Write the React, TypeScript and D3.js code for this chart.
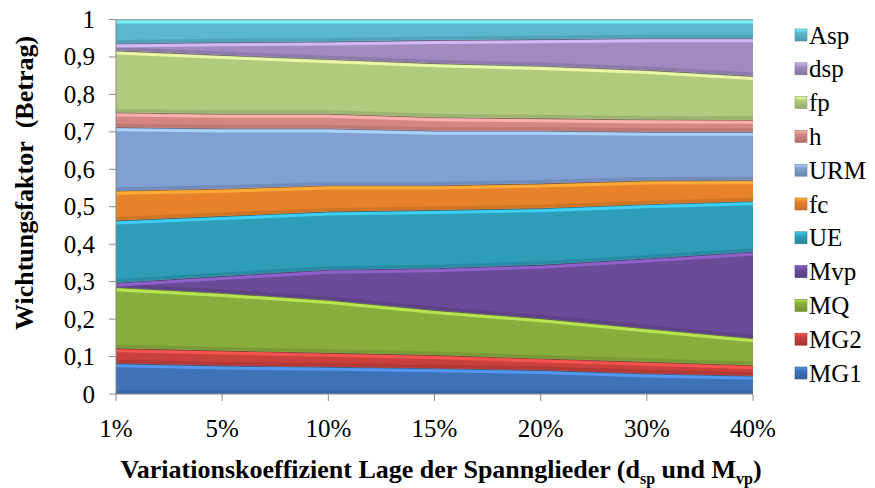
import React from "react";
import * as d3 from "d3";

const categories = ["1%", "5%", "10%", "15%", "20%", "30%", "40%"];
const seriesNames = ["MG1", "MG2", "MQ", "Mvp", "UE", "fc", "URM", "h", "fp", "dsp", "Asp"];

const MG1 = [0.082, 0.076, 0.073, 0.069, 0.064, 0.055, 0.049];
const MG2 = [0.04, 0.04, 0.037, 0.035, 0.031, 0.031, 0.028];
const MQ = [0.163, 0.154, 0.141, 0.12, 0.107, 0.089, 0.072];
const Mvp = [0.012, 0.045, 0.081, 0.112, 0.143, 0.187, 0.231];
const UE = [0.166, 0.16, 0.155, 0.155, 0.151, 0.145, 0.135];
const fc = [0.08, 0.073, 0.07, 0.066, 0.066, 0.063, 0.056];
const URM = [0.169, 0.161, 0.152, 0.146, 0.141, 0.13, 0.129];
const h = [0.04, 0.039, 0.039, 0.036, 0.033, 0.033, 0.032];
const fp = [0.165, 0.157, 0.146, 0.144, 0.14, 0.132, 0.117];
const dsp = [0.019, 0.034, 0.047, 0.062, 0.071, 0.085, 0.101];
const Asp = [0.064, 0.061, 0.059, 0.055, 0.053, 0.05, 0.05];

const yTicks = [0, 0.1, 0.2, 0.3, 0.4, 0.5, 0.6, 0.7, 0.8, 0.9, 1];

const colors: Record<string, string> = {
  MG1: "#3f72b6",
  MG2: "#c9403d",
  MQ: "#89ad3c",
  Mvp: "#6b4a98",
  UE: "#2e9db8",
  fc: "#e8822a",
  URM: "#809fd2",
  h: "#d58683",
  fp: "#b0ca7e",
  dsp: "#a08abf",
  Asp: "#5bb6cf",
};

const FONT = "'Liberation Serif', 'Times New Roman', serif";

export default function App() {
  const width = 875;
  const height = 488;
  const left = 116;
  const right = 753;
  const top = 19.5;
  const bottom = 394;

  const valuesBy: Record<string, number[]> = { MG1, MG2, MQ, Mvp, UE, fc, URM, h, fp, dsp, Asp };
  const rows = categories.map((c, i) => {
    const r: any = { cat: c };
    seriesNames.forEach((s) => (r[s] = valuesBy[s][i]));
    return r;
  });
  const stacked = d3.stack<any>().keys(seriesNames)(rows);

  const x = d3.scalePoint<string>().domain(categories).range([left, right]);
  const y = d3.scaleLinear().domain([0, 1]).range([bottom, top]);

  const area = d3
    .area<any>()
    .x((d) => x(d.data.cat)!)
    .y0((d) => y(d[0]))
    .y1((d) => y(d[1]));
  const topLine = d3
    .line<any>()
    .x((d) => x(d.data.cat)!)
    .y((d) => y(d[1]));
  const hiLine = d3
    .line<any>()
    .x((d) => x(d.data.cat)!)
    .y((d) => y(d[1]) + 2.5);
  const loLine = d3
    .line<any>()
    .x((d) => x(d.data.cat)!)
    .y((d) => y(d[0]) - 2);

  const legendItems = [...seriesNames].reverse();

  return (
    <svg
      width={width}
      height={height}
      style={{ position: "absolute", left: 0, top: 0, background: "#fff" }}
      fontFamily={FONT}
    >
      <defs>
        <clipPath id="plotClip">
          <rect x={left} y={top} width={right - left} height={bottom - top} />
        </clipPath>
        {seriesNames.map((s) => (
          <linearGradient key={s} id={`lg-${s}`} x1="0" y1="0" x2="0" y2="1">
            <stop offset="0%" stopColor={d3.color(colors[s])!.brighter(0.8).formatHex()} />
            <stop offset="35%" stopColor={colors[s]} />
            <stop offset="100%" stopColor={d3.color(colors[s])!.darker(0.5).formatHex()} />
          </linearGradient>
        ))}
      </defs>

      <g clipPath="url(#plotClip)">
        {stacked.map((layer) => (
          <g key={layer.key}>
            <path d={area(layer)!} fill={colors[layer.key]} />
            <path
              d={loLine(layer)!}
              fill="none"
              stroke={d3.color(colors[layer.key])!.darker(0.5).formatHex()}
              strokeWidth={3}
              opacity={0.7}
            />
            <path
              d={hiLine(layer)!}
              fill="none"
              stroke={d3.color(colors[layer.key])!.brighter(0.9).formatHex()}
              strokeWidth={3}
              opacity={0.85}
            />
            <path d={topLine(layer)!} fill="none" stroke="#3a3a3a" strokeOpacity={0.7} strokeWidth={1.2} />
          </g>
        ))}
      </g>

      {/* y axis */}
      <line x1={left} x2={left} y1={top} y2={bottom} stroke="#888" strokeWidth={1} />
      {yTicks.map((t) => (
        <g key={t}>
          <line x1={left - 7} x2={left} y1={y(t)} y2={y(t)} stroke="#888" />
          <text
            x={95}
            y={y(t)}
            textAnchor="end"
            dominantBaseline="central"
            fontSize={25}
            fill="#000"
          >
            {d3.format(".1~f")(t).replace(".", ",")}
          </text>
        </g>
      ))}

      {/* x axis */}
      <line x1={left} x2={right} y1={bottom} y2={bottom} stroke="#888" strokeWidth={1} />
      {categories.map((c) => (
        <g key={c}>
          <line x1={x(c)} x2={x(c)} y1={bottom} y2={bottom + 7} stroke="#888" />
          <text x={x(c)} y={428} textAnchor="middle" dominantBaseline="central" fontSize={25} fill="#000">
            {c}
          </text>
        </g>
      ))}

      {/* axis titles */}
      <text x={441} y={478} textAnchor="middle" fontSize={26} fontWeight="bold" fill="#000">
        Variationskoeffizient Lage der Spannglieder (d
        <tspan fontSize={16} dy={6}>sp</tspan>
        <tspan dy={-6}> und M</tspan>
        <tspan fontSize={16} dy={6}>vp</tspan>
        <tspan dy={-6}>)</tspan>
      </text>
      <text
        transform={`translate(33,183) rotate(-90)`}
        textAnchor="middle"
        fontSize={26}
        fontWeight="bold"
        fill="#000"
      >
        {"Wichtungsfaktor\u00a0\u00a0(Betrag)"}
      </text>

      {/* legend */}
      {legendItems.map((s, i) => {
        const cy = 35 + i * 33.8;
        return (
          <g key={s}>
            <rect x={795} y={cy - 6} width={12} height={12} fill={`url(#lg-${s})`} stroke={d3.color(colors[s])!.darker(0.6).formatHex()} strokeWidth={0.6} />
            <text x={809} y={cy} dominantBaseline="central" fontSize={25} fill="#000">
              {s}
            </text>
          </g>
        );
      })}
    </svg>
  );
}
